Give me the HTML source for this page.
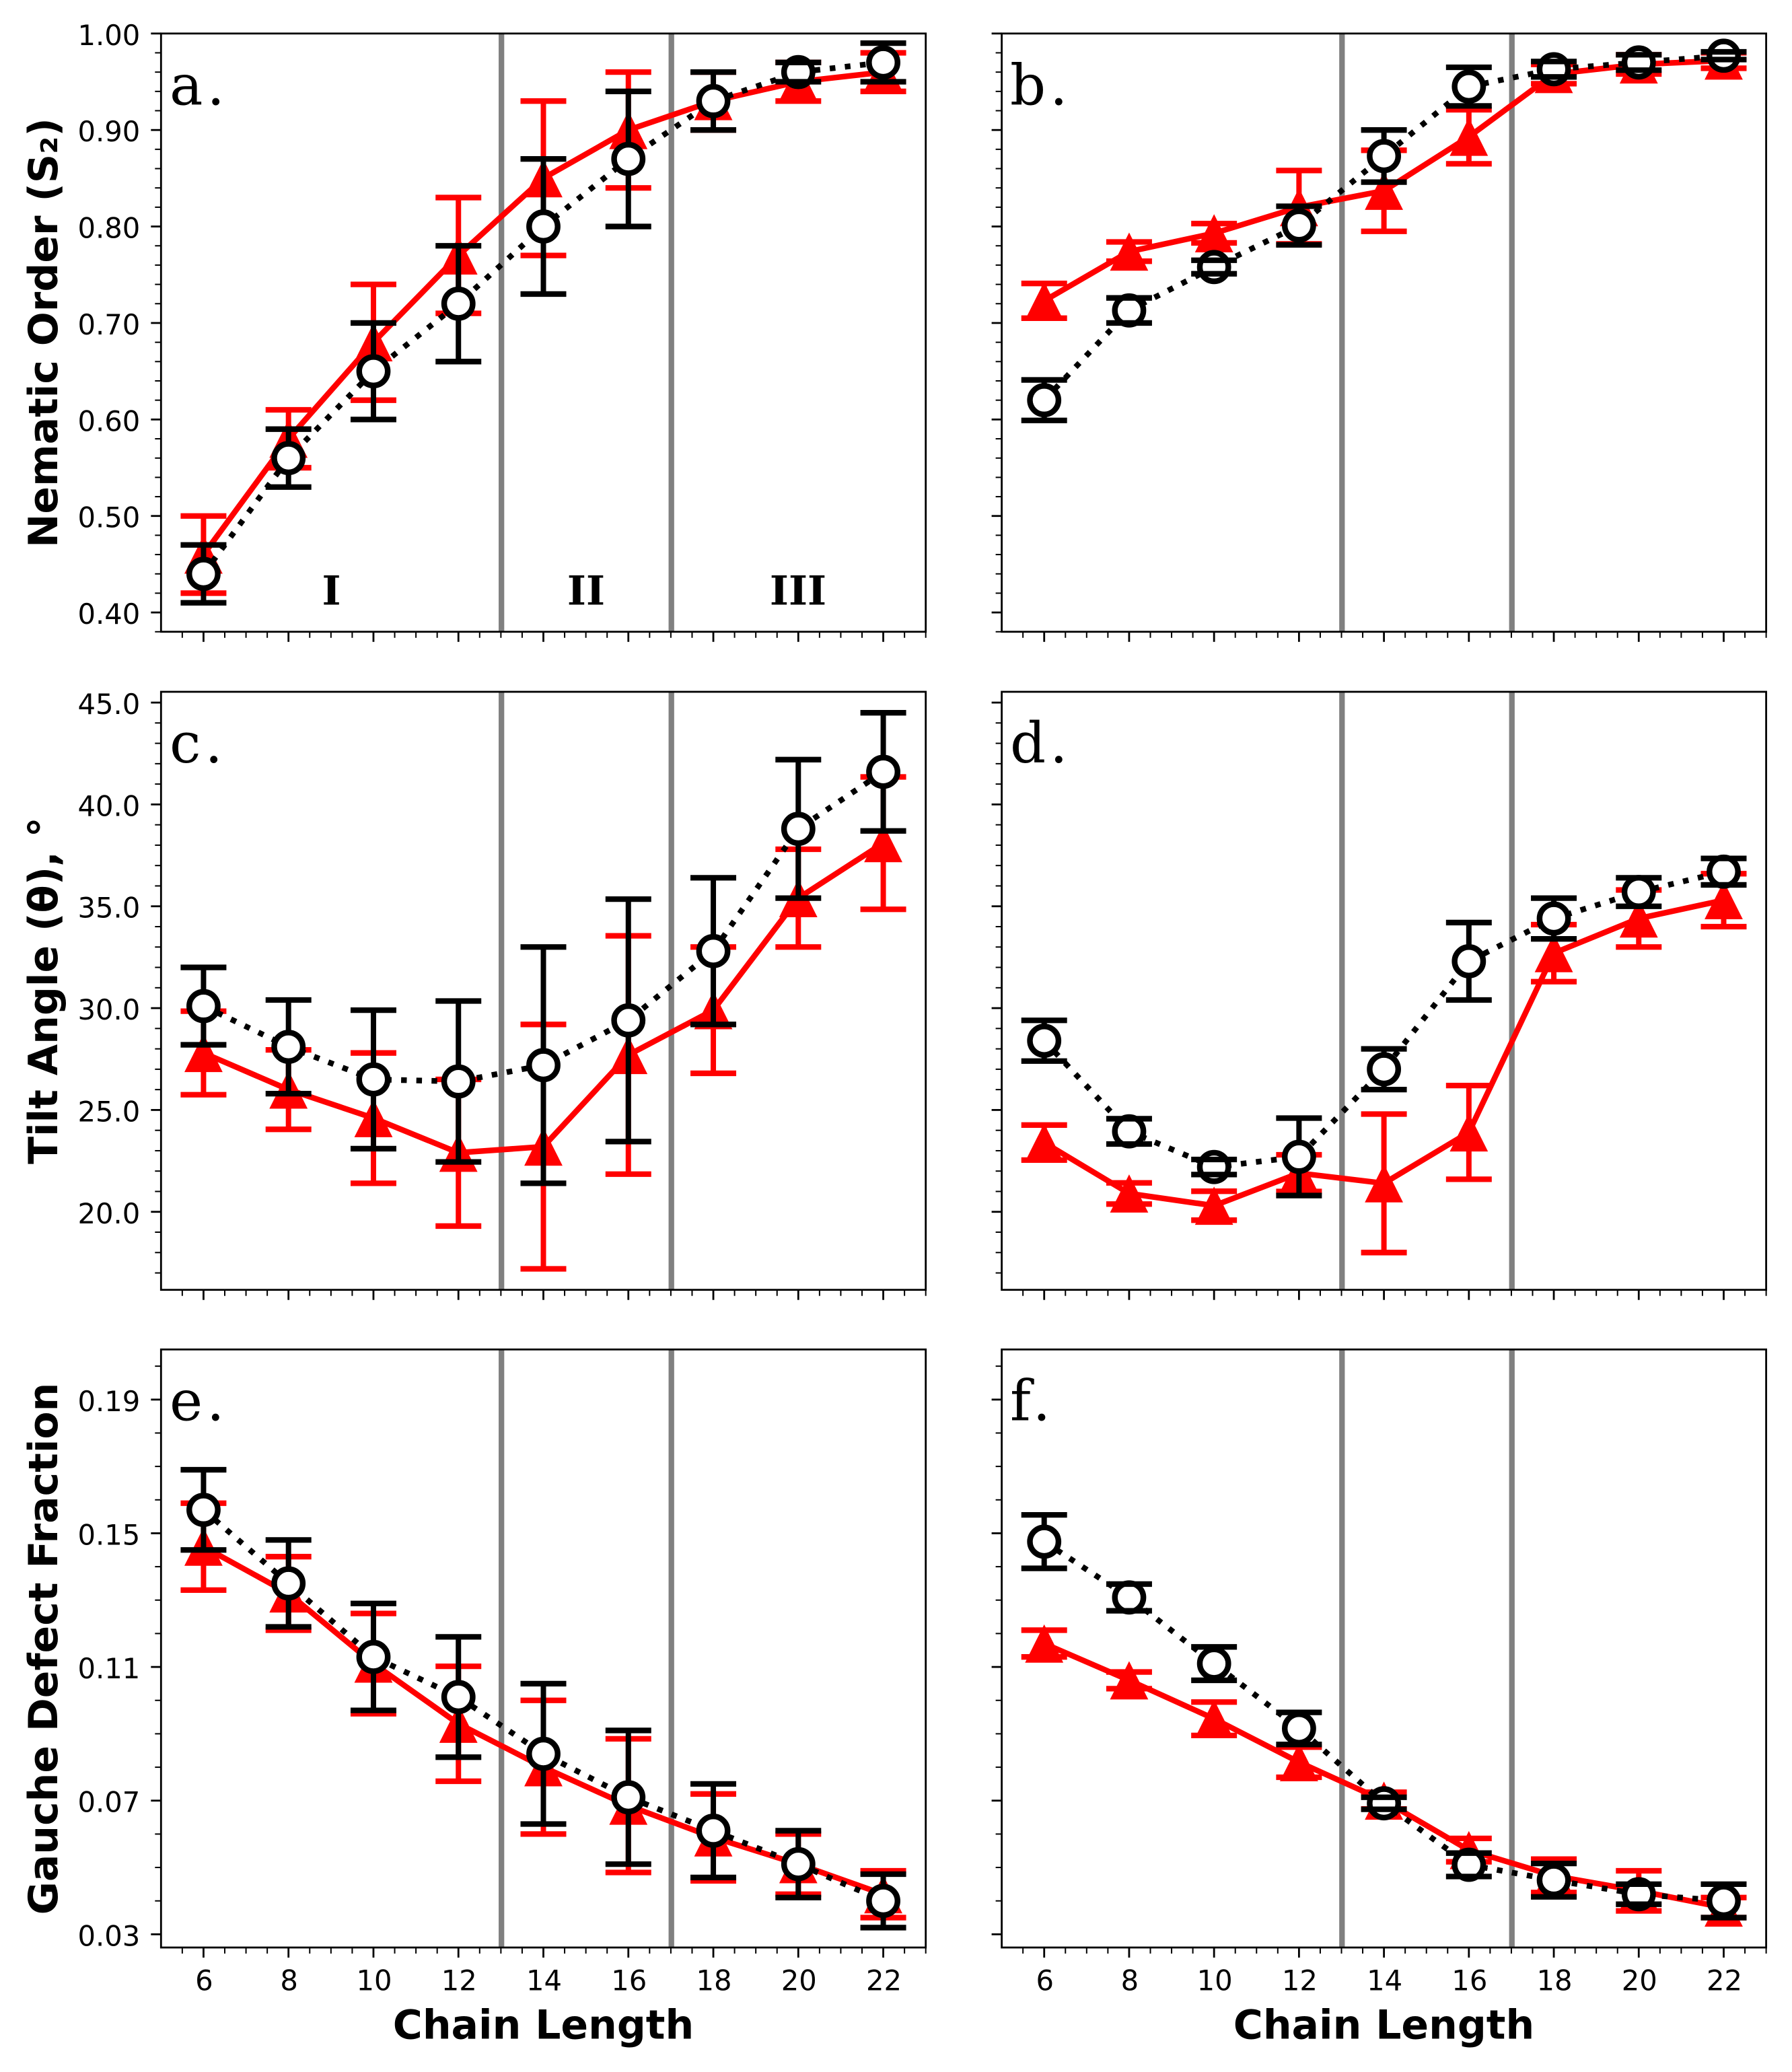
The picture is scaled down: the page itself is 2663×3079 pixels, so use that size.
<!DOCTYPE html>
<html lang="en">
<head>
<meta charset="utf-8">
<title>Chain length dependence of order, tilt and gauche defects</title>
<style>
html,body{margin:0;padding:0;background:#fff;}
svg{display:block;}
.tick-label{font-family:"DejaVu Sans","Liberation Sans",sans-serif;font-size:41.7px;fill:#000;}
.axis-title{font-family:"DejaVu Sans","Liberation Sans",sans-serif;font-weight:bold;font-size:60px;fill:#000;}
.panel-letter{font-family:"DejaVu Serif","Liberation Serif",serif;font-size:83px;letter-spacing:6px;fill:#000;}
.region-label{font-family:"DejaVu Serif","Liberation Serif",serif;font-weight:bold;font-size:60px;fill:#000;text-anchor:middle;}
</style>
</head>
<body>
<svg id="figure" xmlns="http://www.w3.org/2000/svg" width="2663" height="3079" viewBox="0 0 2663 3079">
  <rect x="0" y="0" width="2663" height="3079" fill="#ffffff"/>
  <g id="panels"></g>
  <g id="annotations">
    <text class="axis-title" text-anchor="middle" transform="translate(85 494.5) rotate(-90)">Nematic Order (S₂)</text>
    <text class="axis-title" text-anchor="middle" transform="translate(85 1472) rotate(-90)">Tilt Angle (θ), °</text>
    <text class="axis-title" text-anchor="middle" transform="translate(85 2450) rotate(-90)">Gauche Defect Fraction</text>
    <text class="axis-title" text-anchor="middle" x="807.5" y="3029.3">Chain Length</text>
    <text class="axis-title" text-anchor="middle" x="2056.5" y="3029.3">Chain Length</text>
    <text class="panel-letter" x="252" y="155.5">a.</text>
    <text class="panel-letter" x="1501" y="155.5">b.</text>
    <text class="panel-letter" x="252" y="1133">c.</text>
    <text class="panel-letter" x="1501" y="1133">d.</text>
    <text class="panel-letter" x="252" y="2110.7">e.</text>
    <text class="panel-letter" x="1501" y="2110.7">f.</text>
    <text class="region-label" x="492.5" y="898.3">I</text>
    <text class="region-label" x="871" y="898.3">II</text>
    <text class="region-label" x="1186" y="898.3">III</text>
  </g>
</svg>
<script>
// Shared categories
const chainLengths = [6, 8, 10, 12, 14, 16, 18, 20, 22];
const regionBoundaries = [13, 17];

// Panel a: nematic order
const aRedMean = [0.46, 0.58, 0.68, 0.77, 0.85, 0.90, 0.93, 0.95, 0.96];
const aRedErr = [0.04, 0.03, 0.06, 0.06, 0.08, 0.06, 0.03, 0.02, 0.02];
const aBlackMean = [0.44, 0.56, 0.65, 0.72, 0.80, 0.87, 0.93, 0.96, 0.97];
const aBlackErr = [0.03, 0.03, 0.05, 0.06, 0.07, 0.07, 0.03, 0.01, 0.02];

// Panel b: nematic order
const bRedMean = [0.723, 0.774, 0.793, 0.82, 0.837, 0.893, 0.958, 0.968, 0.972];
const bRedErr = [0.018, 0.01, 0.01, 0.038, 0.042, 0.028, 0.01, 0.01, 0.008];
const bBlackMean = [0.62, 0.713, 0.758, 0.801, 0.873, 0.945, 0.963, 0.97, 0.977];
const bBlackErr = [0.021, 0.013, 0.007, 0.02, 0.027, 0.02, 0.008, 0.008, 0.004];

// Panel c: tilt angle
const cRedMean = [27.8, 26.0, 24.6, 22.9, 23.2, 27.7, 29.9, 35.4, 38.1];
const cRedErr = [2.05, 1.95, 3.2, 3.6, 6.0, 5.85, 3.1, 2.4, 3.25];
const cBlackMean = [30.1, 28.1, 26.5, 26.4, 27.2, 29.4, 32.8, 38.8, 41.6];
const cBlackErr = [1.9, 2.3, 3.4, 3.95, 5.8, 5.95, 3.6, 3.4, 2.9];

// Panel d: tilt angle
const dRedMean = [23.4, 20.9, 20.3, 21.9, 21.4, 23.9, 32.7, 34.4, 35.3];
const dRedErr = [0.86, 0.52, 0.71, 0.9, 3.4, 2.3, 1.4, 1.4, 1.3];
const dBlackMean = [28.4, 23.95, 22.2, 22.7, 27.0, 32.3, 34.4, 35.7, 36.7];
const dBlackErr = [1.0, 0.62, 0.37, 1.9, 1.0, 1.9, 1.0, 0.7, 0.65];

// Panel e: gauche defect fraction
const eRedMean = [0.146, 0.132, 0.111, 0.093, 0.080, 0.0685, 0.059, 0.051, 0.042];
const eRedErr = [0.013, 0.011, 0.015, 0.0172, 0.02, 0.02, 0.013, 0.009, 0.007];
const eBlackMean = [0.157, 0.135, 0.113, 0.101, 0.084, 0.071, 0.061, 0.051, 0.040];
const eBlackErr = [0.012, 0.013, 0.016, 0.018, 0.021, 0.02, 0.014, 0.01, 0.008];

// Panel f: gauche defect fraction
const fRedMean = [0.117, 0.106, 0.0945, 0.0815, 0.070, 0.0552, 0.0475, 0.043, 0.038];
const fRedErr = [0.004, 0.0025, 0.005, 0.0045, 0.0025, 0.0035, 0.005, 0.006, 0.003];
const fBlackMean = [0.1475, 0.1308, 0.111, 0.0916, 0.0692, 0.0508, 0.0462, 0.042, 0.040];
const fBlackErr = [0.008, 0.004, 0.005, 0.0048, 0.0018, 0.0035, 0.005, 0.003, 0.005];

// Y tick labels per row
const orderTickLabels = ['0.40', '0.50', '0.60', '0.70', '0.80', '0.90', '1.00'];
const tiltTickLabels = ['20.0', '25.0', '30.0', '35.0', '40.0', '45.0'];
const gaucheTickLabels = ['0.03', '0.07', '0.11', '0.15', '0.19'];

const SVG_NS = 'http://www.w3.org/2000/svg';

function make(tag, attrs, parent) {
  const node = document.createElementNS(SVG_NS, tag);
  for (const key in attrs) node.setAttribute(key, attrs[key]);
  parent.appendChild(node);
  return node;
}

function linearScale(d0, d1, r0, r1) {
  return function (v) { return r0 + (v - d0) * (r1 - r0) / (d1 - d0); };
}

function drawSeries(group, name, color, xs, means, errs, xScale, yScale, drawMarker, dash) {
  // Error bar stems sit under the connecting line and markers
  means.forEach(function (m, i) {
    const stem = make('line', {
      x1: xScale(xs[i]), x2: xScale(xs[i]),
      y1: yScale(m - errs[i]), y2: yScale(m + errs[i]),
      stroke: color, 'stroke-width': 8
    }, group);
    
    
  });

  const pts = means.map(function (m, i) { return xScale(xs[i]) + ',' + yScale(m); }).join(' ');
  const lineAttrs = { points: pts, fill: 'none', stroke: color, 'stroke-width': 8.4, 'stroke-linejoin': 'round' };
  if (dash) lineAttrs['stroke-dasharray'] = dash;
  const polyline = make('polyline', lineAttrs, group);
  
  

  means.forEach(function (m, i) {
    const marker = drawMarker(group, xScale(xs[i]), yScale(m));
    
    
  });

  // Caps are painted last, over the markers
  means.forEach(function (m, i) {
    [m + errs[i], m - errs[i]].forEach(function (edge, k) {
      const cap = make('line', {
        x1: xScale(xs[i]) - 34, x2: xScale(xs[i]) + 34,
        y1: yScale(edge), y2: yScale(edge),
        stroke: color, 'stroke-width': 8.3
      }, group);
      
      
    });
  });
}

function triangleMarker(group, cx, cy) {
  const p = (cx - 28.4) + ',' + (cy + 28.4) + ' ' + (cx + 28.4) + ',' + (cy + 28.4) + ' ' + cx + ',' + (cy - 28.4);
  return make('polygon', { points: p, fill: '#ff0000' }, group);
}

function circleMarker(group, cx, cy) {
  return make('circle', { cx: cx, cy: cy, r: 21.2, fill: '#ffffff', stroke: '#000000', 'stroke-width': 8.4 }, group);
}

function drawPanel(cfg) {
  const root = document.getElementById('panels');
  const g = make('g', {}, root);
  
  

  const xScale = linearScale(5, 23, cfg.left, cfg.right);
  const yScale = linearScale(cfg.yMin, cfg.yMax, cfg.bottom, cfg.top);

  // Region boundaries
  regionBoundaries.forEach(function (b) {
    const v = make('line', {
      x1: xScale(b) + 0.8, x2: xScale(b) + 0.8, y1: cfg.top, y2: cfg.bottom,
      stroke: '#808080', 'stroke-width': 8.3
    }, g);
    
    
  });

  drawSeries(g, 'red-series', '#ff0000', chainLengths, cfg.redMean, cfg.redErr, xScale, yScale, triangleMarker, null);
  drawSeries(g, 'black-series', '#000000', chainLengths, cfg.blackMean, cfg.blackErr, xScale, yScale, circleMarker, '8.4 14.2');

  // Axes frame
  const frame = make('rect', {
    x: cfg.left, y: cfg.top, width: cfg.right - cfg.left, height: cfg.bottom - cfg.top,
    fill: 'none', stroke: '#000000', 'stroke-width': 2.8
  }, g);
  
  

  // X ticks: minor every half unit, major at each category
  for (let k = 1; k <= 36; k++) {
    const v = 5 + k * 0.5;
    const isMajor = chainLengths.indexOf(v) >= 0;
    const tick = make('line', {
      x1: xScale(v), x2: xScale(v), y1: cfg.bottom, y2: cfg.bottom + (isMajor ? 15 : 9),
      stroke: '#000000', 'stroke-width': isMajor ? 2.8 : 2
    }, g);
    
    
  }
  if (cfg.showX) {
    chainLengths.forEach(function (c) {
      const t = make('text', { x: xScale(c) + 1, y: 2957.3, 'text-anchor': 'middle', 'class': 'tick-label' }, g);
      t.textContent = String(c);
      
      
    });
  }

  // Y ticks
  cfg.yLabels.forEach(function (label, i) {
    const val = parseFloat(label);
    const major = make('line', {
      x1: cfg.left - 15, x2: cfg.left, y1: yScale(val), y2: yScale(val),
      stroke: '#000000', 'stroke-width': 2.8
    }, g);
    
    
    if (cfg.showY) {
      const t = make('text', { x: cfg.left - 31, y: yScale(val) + 17, 'text-anchor': 'end', 'class': 'tick-label' }, g);
      t.textContent = label;
      
      
    }
  });
  const firstMajor = parseFloat(cfg.yLabels[0]);
  const step = (parseFloat(cfg.yLabels[1]) - firstMajor) / cfg.minorPerMajor;
  for (let n = -cfg.minorPerMajor * 2; n <= cfg.minorPerMajor * cfg.yLabels.length + cfg.minorPerMajor; n++) {
    if (((n % cfg.minorPerMajor) + cfg.minorPerMajor) % cfg.minorPerMajor === 0) continue;
    const val = firstMajor + n * step;
    if (val < cfg.yMin || val > cfg.yMax) continue;
    const minor = make('line', {
      x1: cfg.left - 9, x2: cfg.left, y1: yScale(val), y2: yScale(val),
      stroke: '#000000', 'stroke-width': 2
    }, g);
    
    
  }
}

const leftX = { left: 239.3, right: 1375.7 };
const rightX = { left: 1488.6, right: 2624.6 };
const row1 = { top: 49.8, bottom: 938.8, yMin: 0.38, yMax: 1.0, yLabels: orderTickLabels, minorPerMajor: 5 };
const row2 = { top: 1028, bottom: 1916.7, yMin: 16.17, yMax: 45.53, yLabels: tiltTickLabels, minorPerMajor: 5 };
const row3 = { top: 2005.3, bottom: 2894, yMin: 0.02605, yMax: 0.2050, yLabels: gaucheTickLabels, minorPerMajor: 4 };

drawPanel(Object.assign({ id: 'a', showY: true, showX: false, redMean: aRedMean, redErr: aRedErr, blackMean: aBlackMean, blackErr: aBlackErr }, leftX, row1));
drawPanel(Object.assign({ id: 'b', showY: false, showX: false, redMean: bRedMean, redErr: bRedErr, blackMean: bBlackMean, blackErr: bBlackErr }, rightX, row1));
drawPanel(Object.assign({ id: 'c', showY: true, showX: false, redMean: cRedMean, redErr: cRedErr, blackMean: cBlackMean, blackErr: cBlackErr }, leftX, row2));
drawPanel(Object.assign({ id: 'd', showY: false, showX: false, redMean: dRedMean, redErr: dRedErr, blackMean: dBlackMean, blackErr: dBlackErr }, rightX, row2));
drawPanel(Object.assign({ id: 'e', showY: true, showX: true, redMean: eRedMean, redErr: eRedErr, blackMean: eBlackMean, blackErr: eBlackErr }, leftX, row3));
drawPanel(Object.assign({ id: 'f', showY: false, showX: true, redMean: fRedMean, redErr: fRedErr, blackMean: fBlackMean, blackErr: fBlackErr }, rightX, row3));
</script>
</body>
</html>
